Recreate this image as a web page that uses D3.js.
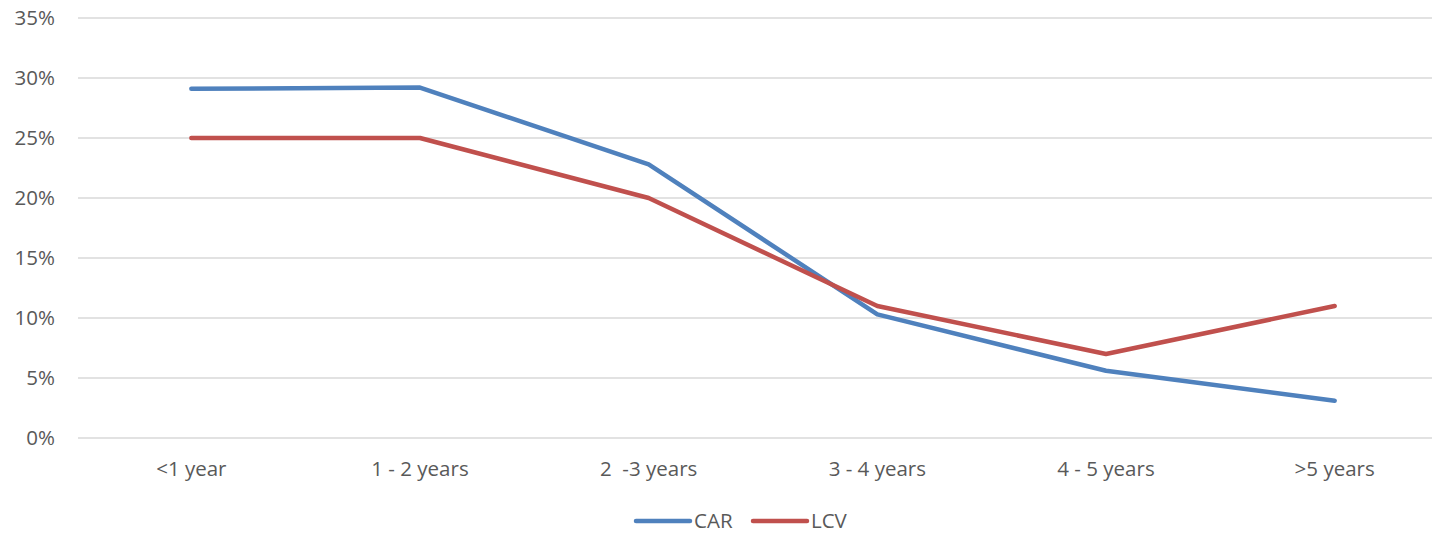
<!DOCTYPE html>
<html>
<head>
<meta charset="utf-8">
<script src="https://cdn.jsdelivr.net/npm/d3@7"></script>
<style>
  html, body { margin: 0; padding: 0; background: #fff; }
  svg { display: block; }
  text { font-family: "Open Sans", sans-serif; fill: #595959; }
</style>
</head>
<body>
<svg id="chart" width="1432" height="534"></svg>
<script>
const categories = ["<1 year", "1 - 2 years", "2  -3 years", "3 - 4 years", "4 - 5 years", ">5 years"];
const carValues = [29.1, 29.2, 22.8, 10.3, 5.6, 3.1];
const lcvValues = [25.0, 25.0, 20.0, 11.0, 7.0, 11.0];
const yTicks = [0, 5, 10, 15, 20, 25, 30, 35];
const seriesNames = ["CAR", "LCV"];
const seriesColors = ["#4F81BD", "#C0504D"];

const svg = d3.select("#chart");
const plot = { left: 77, right: 1449, top: 18, bottom: 438 };
const fontSize = 20.5;

const x = d3.scaleBand().domain(categories).range([plot.left, plot.right]);
const y = d3.scaleLinear().domain([0, 35]).range([plot.bottom, plot.top]);

// horizontal gridlines
svg.append("g").selectAll("line").data(yTicks).join("line")
  .attr("x1", plot.left + 1).attr("x2", plot.right)
  .attr("y1", d => y(d)).attr("y2", d => y(d))
  .attr("stroke", "#d9d9d9").attr("stroke-width", 1.3);

// y-axis labels
svg.append("g").selectAll("text").data(yTicks).join("text")
  .attr("x", 55).attr("y", d => y(d))
  .attr("dy", "0.35em").attr("text-anchor", "end")
  .attr("font-size", fontSize)
  .text(d => d + "%");

// x-axis labels
svg.append("g").selectAll("text").data(categories).join("text")
  .attr("x", d => x(d) + x.bandwidth() / 2).attr("y", 469)
  .attr("dy", "0.35em").attr("text-anchor", "middle")
  .attr("font-size", fontSize)
  .attr("xml:space", "preserve")
  .text(d => d);

const line = d3.line()
  .x((d, i) => x(categories[i]) + x.bandwidth() / 2)
  .y(d => y(d));

[carValues, lcvValues].forEach((vals, k) => {
  svg.append("path").datum(vals)
    .attr("d", line)
    .attr("fill", "none")
    .attr("stroke", seriesColors[k])
    .attr("stroke-width", 4.5)
    .attr("stroke-linecap", "round")
    .attr("stroke-linejoin", "round");
});

// legend
const legend = svg.append("g");
const legendX = [636, 753];
seriesNames.forEach((name, k) => {
  legend.append("line")
    .attr("x1", legendX[k]).attr("x2", legendX[k] + 54)
    .attr("y1", 521).attr("y2", 521)
    .attr("stroke", seriesColors[k]).attr("stroke-width", 4.5)
    .attr("stroke-linecap", "round");
  legend.append("text")
    .attr("x", legendX[k] + 58).attr("y", 521)
    .attr("dy", "0.35em").attr("font-size", fontSize)
    .text(name);
});
</script>
</body>
</html>
